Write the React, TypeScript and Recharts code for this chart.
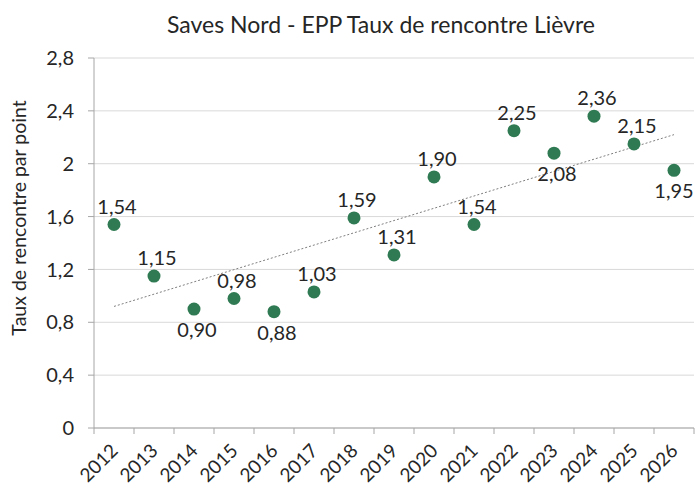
import React from 'react';
import { ScatterChart, Scatter, XAxis, YAxis, CartesianGrid, LabelList } from 'recharts';

const years = [2012, 2013, 2014, 2015, 2016, 2017, 2018, 2019, 2020, 2021, 2022, 2023, 2024, 2025, 2026];
const rates = [1.54, 1.15, 0.9, 0.98, 0.88, 1.03, 1.59, 1.31, 1.9, 1.54, 2.25, 2.08, 2.36, 2.15, 1.95];
const yTicks = [0, 0.4, 0.8, 1.2, 1.6, 2, 2.4, 2.8];
const trendYears = [2012, 2026];
const trendRates = [0.92, 2.22];
const labelsBelow = [2014, 2016, 2023, 2026];

const points = years.map((year, i) => ({ year, rate: rates[i] }));
const trend = trendYears.map((year, i) => ({ year, rate: trendRates[i] }));

const FONT = 'Lato, "Open Sans", sans-serif';
const TEXT = '#262626';
const AXIS = '#a6a6a6';
const GREEN = '#2f7a53';
const HALF_BAND = 20;
const RIGHT_EDGE = 693;

const fmtTick = (v: number) => String(v).replace('.', ',');
const fmtLabel = (v: number) => v.toFixed(2).replace('.', ',');

const XTick = (props: any) => {
  const { x, y, payload, index } = props;
  return (
    <g>
      <line x1={x - HALF_BAND} x2={x - HALF_BAND} y1={y - 6} y2={y} stroke={AXIS} />
      {index === years.length - 1 && (
        <line x1={x + HALF_BAND} x2={x + HALF_BAND} y1={y - 6} y2={y} stroke={AXIS} />
      )}
      <text
        x={x + 5}
        y={y + 18}
        textAnchor="end"
        transform={`rotate(-45, ${x + 5}, ${y + 18})`}
        fontFamily={FONT}
        fontSize={19}
        fill={TEXT}
      >
        {payload.value}
      </text>
    </g>
  );
};

const PointLabel = (props: any) => {
  const { x, y, width, height, value, index } = props;
  const cx = x + width / 2;
  const cy = y + height / 2;
  const below = labelsBelow.includes(years[index]);
  // keep the last label inside the picture, like Excel does
  const lx = Math.min(cx + 3, RIGHT_EDGE - 19);
  return (
    <text
      x={lx}
      y={below ? cy + 28 : cy - 11}
      textAnchor="middle"
      fontFamily={FONT}
      fontSize={20}
      fill={TEXT}
    >
      {fmtLabel(value)}
    </text>
  );
};

const Dot = (props: any) => <circle cx={props.cx} cy={props.cy} r={6.5} fill={GREEN} />;

export default function App() {
  return (
    <div style={{ position: 'absolute', left: 0, top: 0, width: 695, height: 488, background: '#fff' }}>
      <div
        style={{
          position: 'absolute',
          left: 381,
          top: 11,
          transform: 'translateX(-50%)',
          whiteSpace: 'nowrap',
          fontFamily: FONT,
          fontSize: 23,
          lineHeight: '27px',
          color: TEXT,
        }}
      >
        Saves Nord - EPP Taux de rencontre Lièvre
      </div>
      <ScatterChart width={695} height={488} margin={{ top: 58, right: 1, bottom: 0, left: 0 }}>
        <CartesianGrid vertical={false} stroke="#d9d9d9" />
        <XAxis
          type="number"
          dataKey="year"
          domain={[2011.5, 2026.5]}
          ticks={years}
          interval={0}
          height={60}
          tickLine={false}
          tickSize={6}
          tickMargin={0}
          axisLine={{ stroke: AXIS }}
          tick={<XTick />}
        />
        <YAxis
          type="number"
          dataKey="rate"
          domain={[0, 2.8]}
          ticks={yTicks}
          width={94}
          tickSize={6}
          tickMargin={14}
          tickLine={{ stroke: AXIS }}
          axisLine={{ stroke: AXIS }}
          tickFormatter={fmtTick}
          tick={{ fontFamily: FONT, fontSize: 20, fill: TEXT }}
          label={{
            content: () => (
              <text
                x={18}
                y={218}
                transform="rotate(-90, 18, 218)"
                textAnchor="middle"
                dominantBaseline="central"
                fontFamily={FONT}
                fontSize={19.5}
                fill={TEXT}
              >
                Taux de rencontre par point
              </text>
            ),
          }}
        />
        <Scatter
          data={trend}
          isAnimationActive={false}
          line={{ stroke: '#7f7f7f', strokeWidth: 1, strokeDasharray: '2 2' }}
          shape={() => <g />}
        />
        <Scatter data={points} isAnimationActive={false} shape={<Dot />}>
          <LabelList dataKey="rate" content={<PointLabel />} />
        </Scatter>
      </ScatterChart>
    </div>
  );
}
